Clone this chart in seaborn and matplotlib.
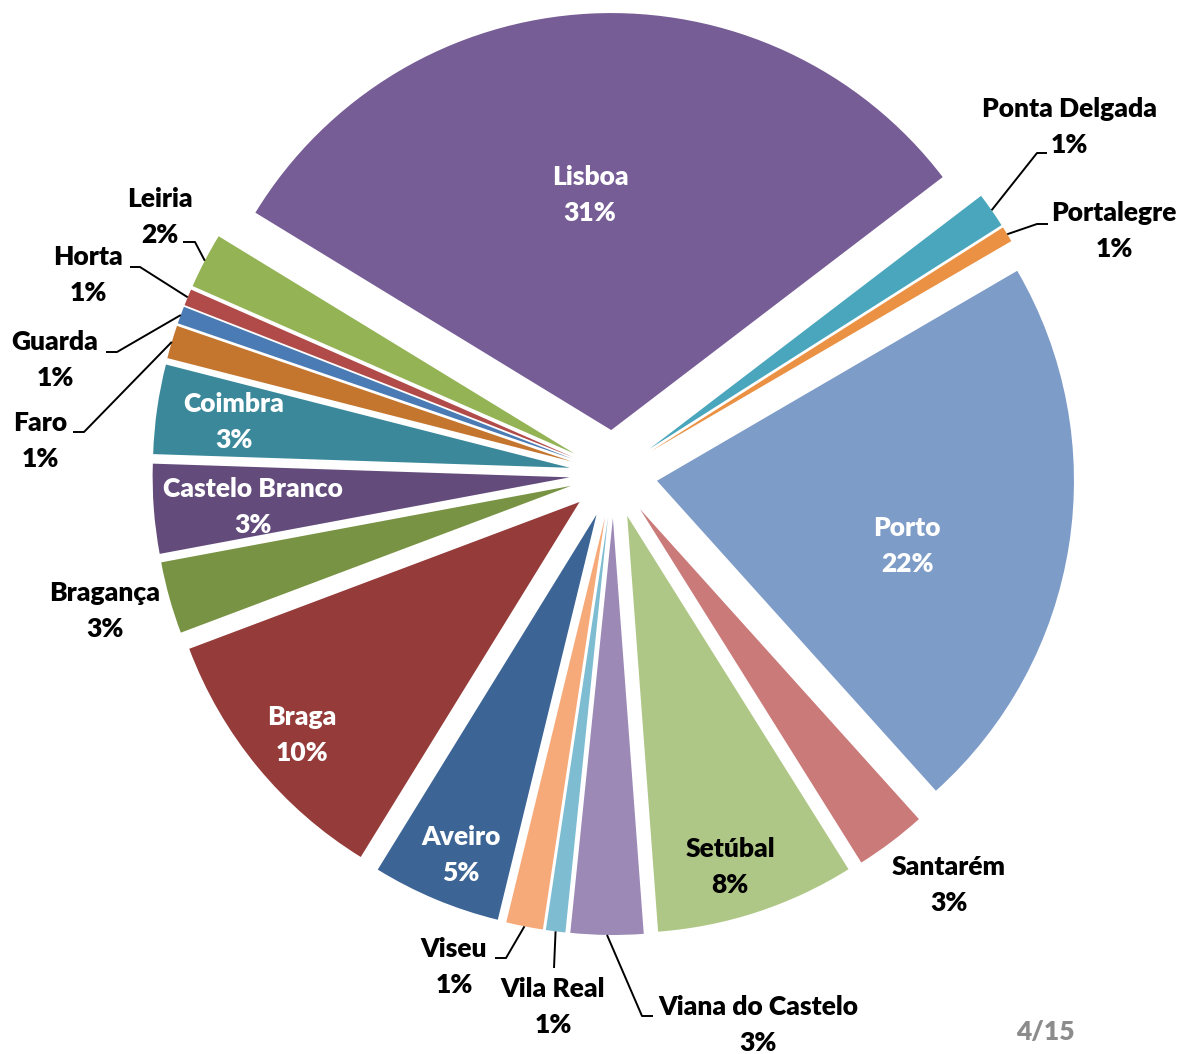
import numpy as np
import pandas as pd
import matplotlib
matplotlib.use("Agg")
import matplotlib.pyplot as plt
import seaborn as sns

# ---- data ----
districts = ["Aveiro", "Braga", "Bragança", "Castelo Branco", "Coimbra", "Faro",
             "Guarda", "Horta", "Leiria", "Lisboa", "Ponta Delgada", "Portalegre",
             "Porto", "Santarém", "Setúbal", "Viana do Castelo", "Vila Real", "Viseu"]
shares = [4.97, 10.45, 2.78, 3.45, 3.45, 1.28,
          0.67, 0.64, 2.14, 30.8, 1.36, 0.61,
          21.67, 2.75, 7.7, 2.8, 0.75, 1.42]
slice_colors = ["#3C6596", "#953B39", "#789343", "#634C7C", "#3A889A", "#C4762F",
                "#4A7BB5", "#B14B49", "#93B355", "#775D96", "#49A6BD", "#EB9144",
                "#7E9CC8", "#CA7B79", "#AFC786", "#9C89B6", "#7DBCD1", "#F7AA79"]
page_label = "4/15"

df = pd.DataFrame({"district": districts, "share": shares, "color": slice_colors})

# ---- layout (pixels of the 1184x1054 canvas) ----
W, H = 1184, 1054
CX, CY, R = 613.5, 474.0, 417.0

def px(x, y):
    return ((x - CX) / R, (CY - y) / R)

# label block centres (px), text colour, leader (horizontal start, elbow) or None
label_layout = {
    "Lisboa": ((590, 195), "white", None),
    "Porto": ((907, 546), "white", None),
    "Setúbal": ((730, 867), "black", None),
    "Aveiro": ((461, 855), "white", None),
    "Braga": ((302, 735), "white", None),
    "Castelo Branco": ((253, 507), "white", None),
    "Coimbra": ((234, 422), "white", None),
    "Santarém": ((949, 885), "black", None),
    "Bragança": ((105, 611), "black", None),
    "Ponta Delgada": ((1069, 127), "black", [(1047, 153), (1037, 153)]),
    "Portalegre": ((1114, 231), "black", [(1048, 224), (1037, 224)]),
    "Viana do Castelo": ((758, 1025), "black", [(653, 1016), (642, 1016)]),
    "Vila Real": ((553, 1007), "black", [(554, 968)]),
    "Viseu": ((454, 967), "black", [(495, 958), (506, 958)]),
    "Faro": ((40, 441), "black", [(73, 432), (84, 432)]),
    "Guarda": ((55, 360), "black", [(106, 352), (117, 352)]),
    "Horta": ((88, 275), "black", [(130, 267), (140, 267)]),
    "Leiria": ((160, 217), "black", [(183, 242), (195, 242)]),
}

sns.set_theme(style="white")
plt.rcParams["font.family"] = ["Lato", "DejaVu Sans"]
plt.rcParams["font.weight"] = "bold"

fig = plt.figure(figsize=(W / 100, H / 100), dpi=100)
ax = fig.add_axes([0, 0, 1, 1])

wedges, _ = ax.pie(df["share"], colors=df["color"], startangle=256.3,
                   counterclock=False, explode=[0.1055] * len(df),
                   wedgeprops=dict(linewidth=0))
ax.set_xlim(-CX / R, (W - CX) / R)
ax.set_ylim(-(H - CY) / R, CY / R)
ax.set_aspect("auto")
ax.axis("off")

total = df["share"].sum()
FS = 19
FW = "heavy"
for w, name, val in zip(wedges, df["district"], df["share"]):
    (lx, ly), tcol, leader = label_layout[name]
    pct = f"{round(val / total * 100):.0f}%"
    ax.text(*px(lx, ly - 18), name, ha="center", va="center", fontsize=FS,
            fontweight=FW, color=tcol)
    ax.text(*px(lx, ly + 18), pct, ha="center", va="center", fontsize=FS,
            fontweight=FW, color=tcol)
    if leader is not None:
        mid = np.deg2rad((w.theta1 + w.theta2) / 2)
        ex = w.center[0] + w.r * np.cos(mid)
        ey = w.center[1] + w.r * np.sin(mid)
        pts = [px(*p) for p in leader] + [(ex, ey)]
        xs, ys = zip(*pts)
        ax.plot(xs, ys, color="black", linewidth=1.4, solid_capstyle="butt")

ax.text(*px(1045, 1032), page_label, ha="center", va="center", fontsize=FS,
        fontweight=FW, color="#8C8C8C")

fig.savefig("out.png", dpi=100)
